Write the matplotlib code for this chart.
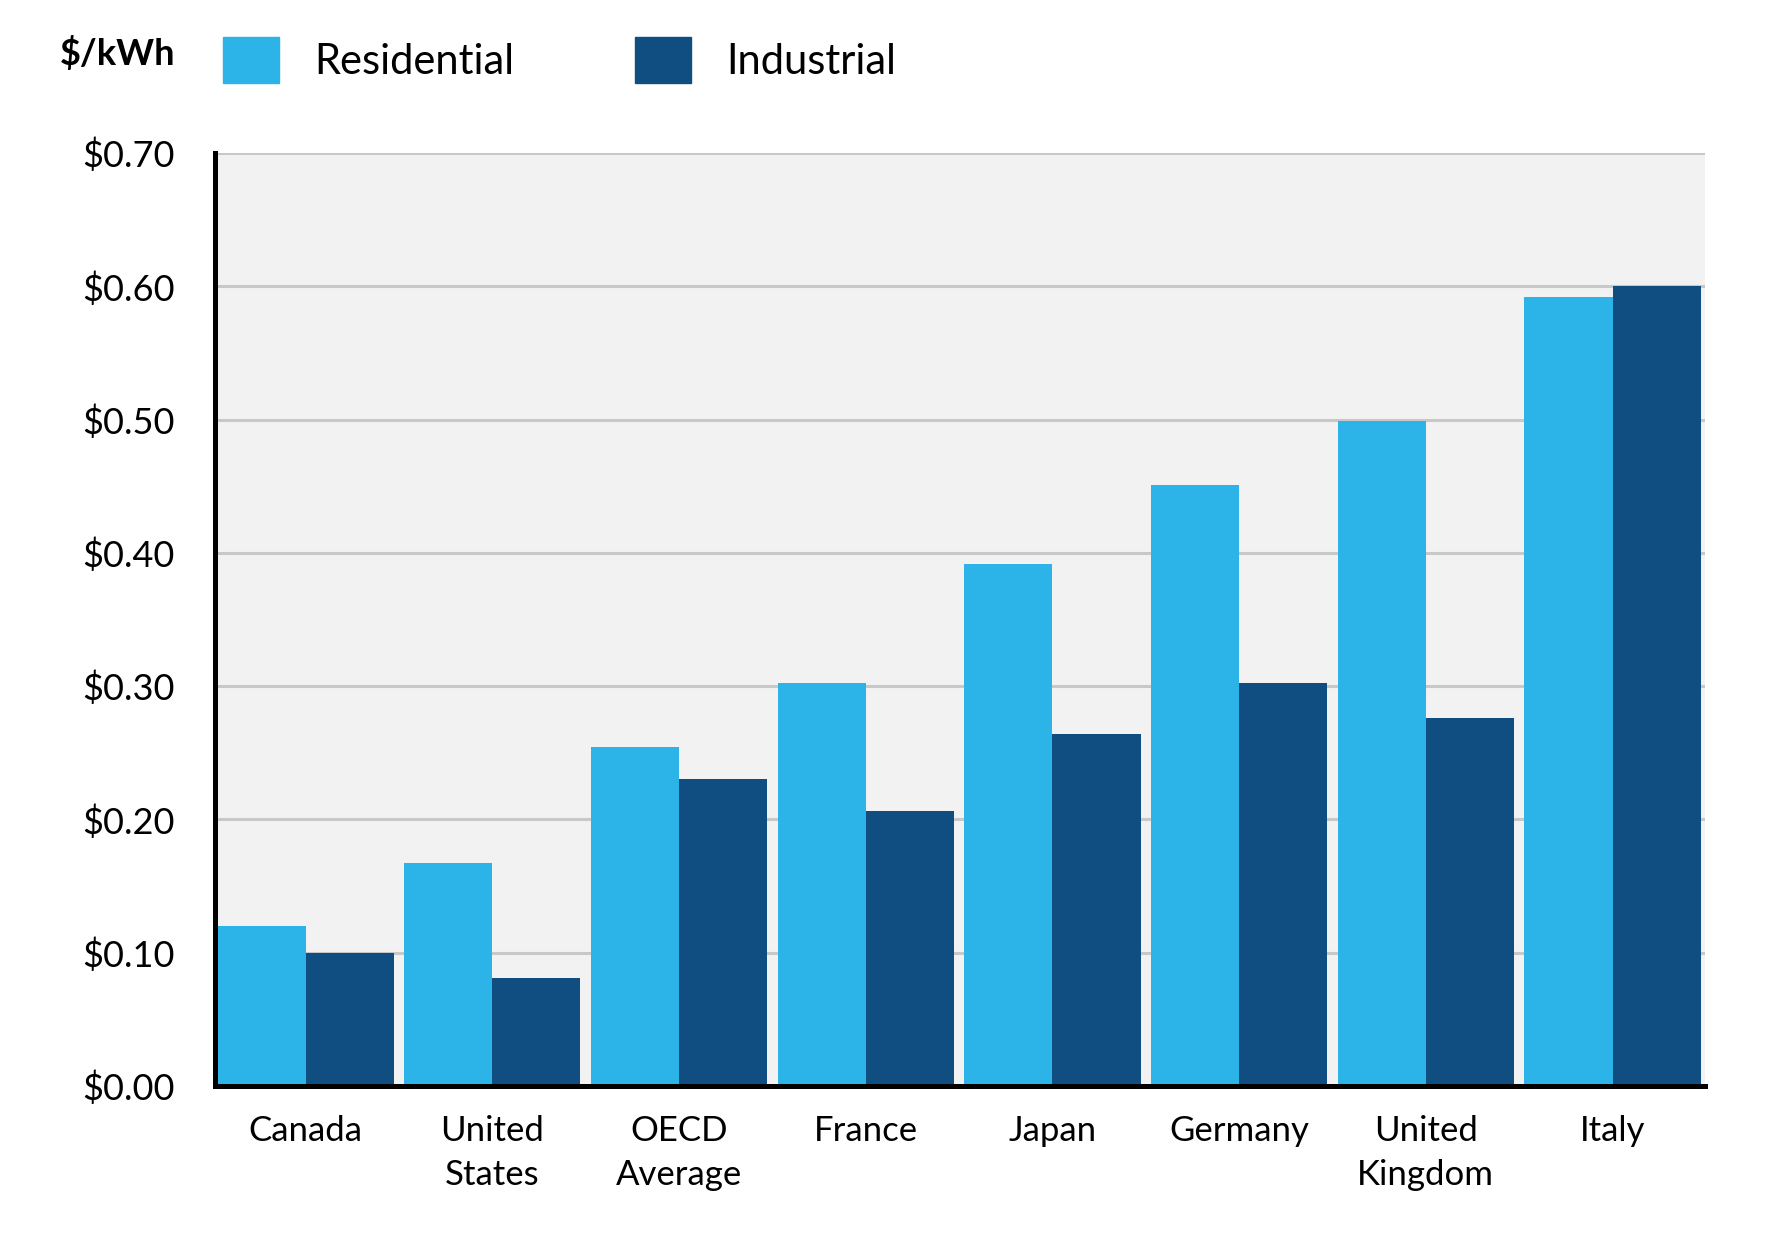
import numpy as np
import matplotlib
matplotlib.use("Agg")
import matplotlib.pyplot as plt
from matplotlib.patches import Patch

plt.rcParams["font.family"] = ["Lato", "DejaVu Sans"]

# data ($/kWh)
countries = ["Canada", "United\nStates", "OECD\nAverage", "France", "Japan",
             "Germany", "United\nKingdom", "Italy"]
residential = [0.120, 0.167, 0.254, 0.302, 0.392, 0.451, 0.499, 0.592]
industrial = [0.100, 0.081, 0.230, 0.206, 0.264, 0.302, 0.276, 0.600]
yticks = [0.0, 0.1, 0.2, 0.3, 0.4, 0.5, 0.6, 0.7]

c_res = "#2cb3e8"
c_ind = "#104d81"

fig = plt.figure(figsize=(17.68, 12.56), dpi=100)
ax = fig.add_axes([215/1768, 1-1086/1256, (1705-215)/1768, (1086-153)/1256])
ax.set_facecolor("#f2f2f2")

x = np.arange(len(countries))
w = 0.472
ax.bar(x - w/2, residential, w, color=c_res, zorder=3)
ax.bar(x + w/2, industrial, w, color=c_ind, zorder=3)

ax.set_xlim(-0.485, 7.495)
ax.set_ylim(0, 0.70)
ax.set_yticks(yticks)
ax.set_yticklabels([f"${v:.2f}" for v in yticks])
ax.set_xticks(x)
ax.set_xticklabels(countries, linespacing=1.45)
ax.tick_params(axis="y", length=0, pad=29, labelsize=26)
ax.tick_params(axis="x", length=0, pad=21, labelsize=25)
ax.grid(axis="y", color="#c8c8c8", lw=2.2, zorder=1)
ax.set_axisbelow(True)

for s in ["top", "right"]:
    ax.spines[s].set_visible(False)
for s in ["left", "bottom"]:
    ax.spines[s].set_linewidth(3.6)
    ax.spines[s].set_color("black")
    ax.spines[s].set_zorder(4)

fig.text(175/1768, 1-53/1256, "$/kWh", ha="right", va="center",
         fontsize=26, fontweight="bold")

handles = [Patch(color=c_res), Patch(color=c_ind)]
fig.legend(handles, ["Residential", "Industrial"], ncol=2, frameon=False,
           loc="center left", bbox_to_anchor=(223/1768, 1-60/1256),
           fontsize=30, handlelength=1.34, handleheight=1.34,
           handletextpad=0.85, columnspacing=2.9, borderpad=0, borderaxespad=0)

fig.savefig("out.png", dpi=100, facecolor="white")
